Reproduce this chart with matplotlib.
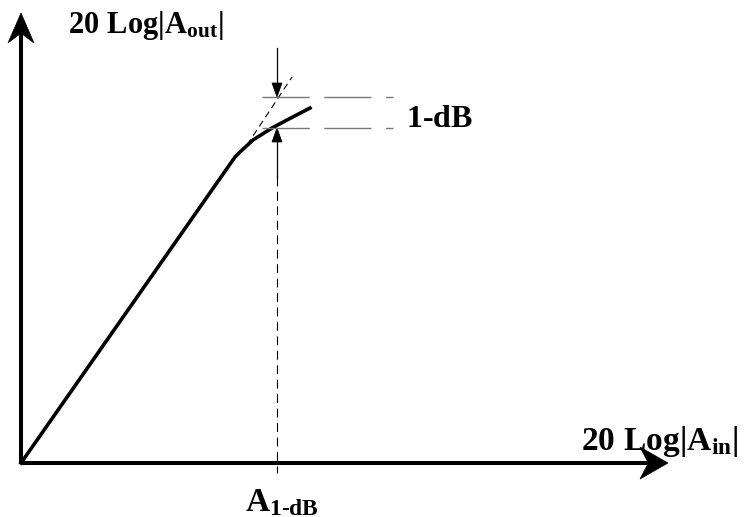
import numpy as np
import matplotlib.pyplot as plt
from matplotlib.patches import Polygon

plt.rcParams['mathtext.fontset'] = 'custom'
plt.rcParams['mathtext.rm'] = 'Liberation Serif:bold'
plt.rcParams['mathtext.bf'] = 'Liberation Serif:bold'
plt.rcParams['mathtext.it'] = 'Liberation Serif:bold'

# transfer curve (input level vs output level, arbitrary units)
curve_in = [0, 214, 219, 232, 251, 266, 289]
curve_out = [0, 306, 311, 323, 335, 343, 355]

# ideal linear gain extended past the knee
tangent_in = [226, 271]
tangent_out = [318, 386]

# 1-dB compression point and the two output levels
p1db_in = 256
level_hi = 366
level_lo = 335
level_x = [241, 372]

# axis extents
x_end = 647
y_end = 450


def arrow_head(ax, tip, direction, length, width, notch, **kw):
    # notch = where the back of the head sits, as a fraction of its length
    d = np.array(direction, float)
    d /= np.linalg.norm(d)
    n = np.array([-d[1], d[0]])
    tip = np.array(tip, float)
    base = tip - d * length
    pts = [tip, base + n * width / 2, tip - d * length * notch, base - n * width / 2]
    ax.add_patch(Polygon(pts, closed=True, facecolor='k', edgecolor='k', lw=0.5, **kw))


fig = plt.figure(figsize=(7.52, 5.17), dpi=100)
ax = fig.add_axes([0, 0, 1, 1])
ax.set_xlim(-21, 731)
ax.set_ylim(-54, 463)
ax.axis('off')

# axes with arrow heads
ax.plot([0, x_end - 15], [0, 0], color='k', lw=2.9, solid_capstyle='butt')
ax.plot([0, 0], [0, y_end - 15], color='k', lw=2.9, solid_capstyle='butt')
arrow_head(ax, (x_end, 0), (1, 0), 28, 32, 0.7)
arrow_head(ax, (0, y_end), (0, 1), 30, 26, 0.67)

# compression curve
ax.plot(curve_in, curve_out, color='k', lw=2.6, solid_joinstyle='round')

# extrapolated linear response
ax.plot(tangent_in, tangent_out, color='k', lw=0.8, dashes=(6, 4))

# reference levels
for lev in (level_hi, level_lo):
    ax.plot(level_x, [lev, lev], color='#777777', lw=1.0, dashes=(34, 10.5))

# arrows marking the 1 dB gap
ax.plot([p1db_in, p1db_in], [415, level_hi + 12], color='k', lw=0.9)
arrow_head(ax, (p1db_in, level_hi), (0, -1), 14, 10, 1.0)
ax.plot([p1db_in, p1db_in], [286, level_lo - 12], color='k', lw=0.9)
arrow_head(ax, (p1db_in, level_lo), (0, 1), 14, 10, 1.0)

# drop line to the input axis
ax.plot([p1db_in, p1db_in], [286, -10], color='k', lw=0.8, dashes=(8, 5))

# labels
ax.text(47, 430, r'$\mathbf{20\ Log|A_{out}|}$', fontsize=22, ha='left', va='baseline')
ax.text(560, 13, r'$\mathbf{20\ Log|A_{in}|}$', fontsize=24, ha='left', va='baseline')
ax.text(385, 336, r'$\mathbf{1‐dB}$', fontsize=23, ha='left', va='baseline')
ax.text(224, -48, r'$\mathbf{A_{1‐dB}}$', fontsize=24, ha='left', va='baseline')

fig.savefig('out.png', dpi=100)
